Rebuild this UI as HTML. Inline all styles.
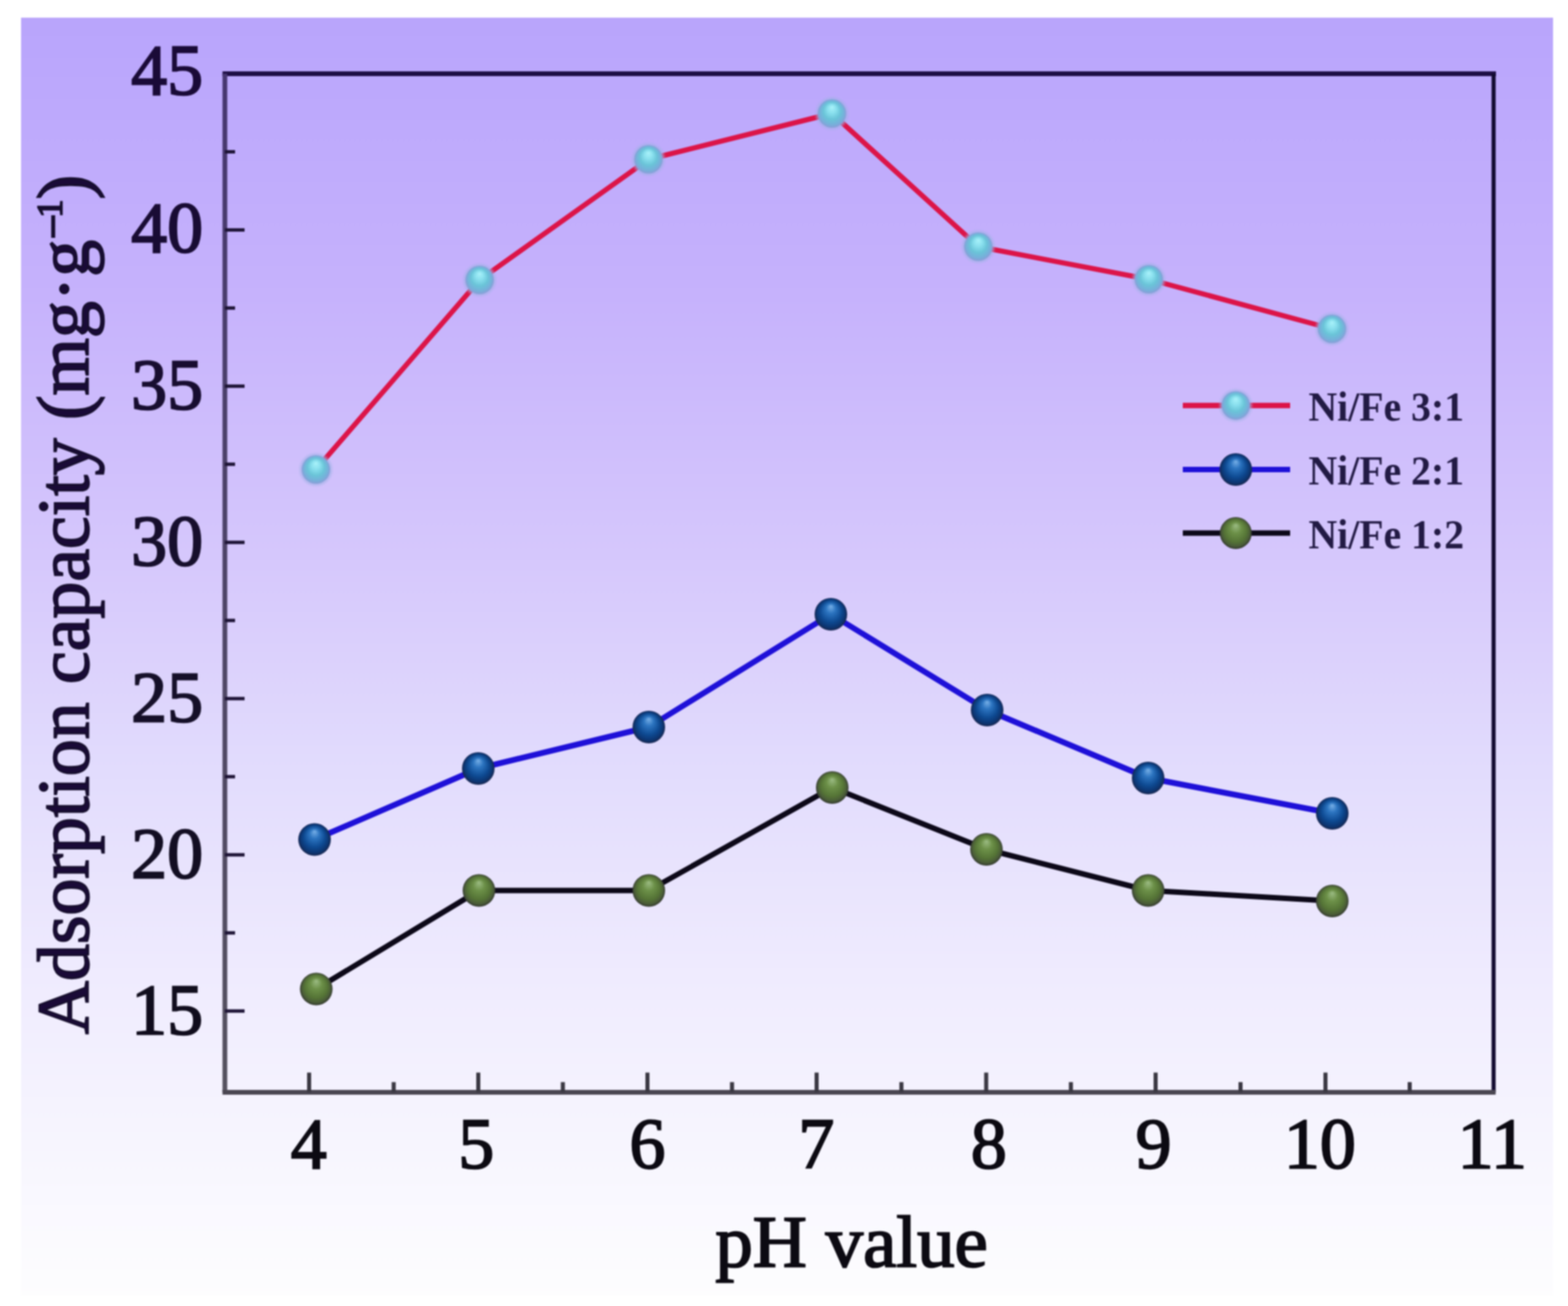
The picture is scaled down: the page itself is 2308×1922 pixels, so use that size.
<!DOCTYPE html>
<html><head><meta charset="utf-8"><title>Adsorption capacity vs pH</title>
<style>
html,body{margin:0;padding:0;background:#fff;}
body{width:2308px;height:1922px;overflow:hidden;}
svg{display:block;filter:blur(1px);}
text{font-family:"Liberation Serif","Times New Roman",serif;}
</style></head><body>
<svg width="2308" height="1922" viewBox="0 0 2308 1922" xmlns="http://www.w3.org/2000/svg">
<defs>
<linearGradient id="bg" gradientUnits="userSpaceOnUse" x1="0" y1="26" x2="0" y2="1907">
<stop offset="0.0000" stop-color="#b9a5fb"/>
<stop offset="0.0181" stop-color="#baa6fc"/>
<stop offset="0.2148" stop-color="#c6b2fc"/>
<stop offset="0.4274" stop-color="#d6c8fc"/>
<stop offset="0.5869" stop-color="#e2dcfd"/>
<stop offset="0.7464" stop-color="#efebfe"/>
<stop offset="0.8474" stop-color="#f5f3fe"/>
<stop offset="0.9325" stop-color="#faf9ff"/>
<stop offset="1.0000" stop-color="#fdfdfe"/>
</linearGradient>
<linearGradient id="ink" gradientUnits="userSpaceOnUse" x1="0" y1="60" x2="0" y2="1900">
<stop offset="0" stop-color="#1a0a38"/>
<stop offset="0.5" stop-color="#16102a"/>
<stop offset="1" stop-color="#0c0a12"/>
</linearGradient>
<linearGradient id="lft" gradientUnits="userSpaceOnUse" x1="0" y1="100" x2="0" y2="1620">
<stop offset="0" stop-color="#463670"/>
<stop offset="1" stop-color="#55525e"/>
</linearGradient>
<radialGradient id="mc" cx="0.5" cy="0.5" r="0.5" fx="0.5" fy="0.27">
<stop offset="0" stop-color="#aaf2fa"/>
<stop offset="0.3" stop-color="#8ae0ee"/>
<stop offset="0.6" stop-color="#6ac4d8"/>
<stop offset="0.85" stop-color="#76b0da"/>
<stop offset="1" stop-color="#8a9ed8"/>
</radialGradient>
<filter id="soft" x="-20%" y="-20%" width="140%" height="140%"><feGaussianBlur stdDeviation="1.6"/></filter>
<radialGradient id="mb" cx="0.5" cy="0.5" r="0.5" fx="0.5" fy="0.25">
<stop offset="0" stop-color="#78b0e8"/>
<stop offset="0.3" stop-color="#2c74c0"/>
<stop offset="0.65" stop-color="#0e4a92"/>
<stop offset="0.88" stop-color="#0c3470"/>
<stop offset="1" stop-color="#1a2850"/>
</radialGradient>
<radialGradient id="mg" cx="0.5" cy="0.5" r="0.5" fx="0.5" fy="0.25">
<stop offset="0" stop-color="#9cbc84"/>
<stop offset="0.35" stop-color="#6c9048"/>
<stop offset="0.7" stop-color="#557436"/>
<stop offset="0.88" stop-color="#4a5c38"/>
<stop offset="1" stop-color="#343a30"/>
</radialGradient>
</defs>
<rect x="0" y="0" width="2308" height="1922" fill="#fff"/>
<rect x="31" y="26" width="2255" height="1881" fill="url(#bg)"/>

<line x1="327.5" y1="108.5" x2="2202.0" y2="108.5" stroke="#1e0e44" stroke-width="7"/>
<line x1="2198.5" y1="108.5" x2="2198.5" y2="1607.5" stroke="#120a30" stroke-width="6"/>
<line x1="331" y1="108.5" x2="331" y2="1607.5" stroke="url(#lft)" stroke-width="7"/>
<line x1="327.5" y1="1607.5" x2="2201.5" y2="1607.5" stroke="#4a4652" stroke-width="7"/>
<line x1="455" y1="1607.5" x2="455" y2="1578.5" stroke="#3a3842" stroke-width="6"/>
<line x1="579.5" y1="1607.5" x2="579.5" y2="1592.5" stroke="#3a3842" stroke-width="6"/>
<line x1="704" y1="1607.5" x2="704" y2="1578.5" stroke="#3a3842" stroke-width="6"/>
<line x1="828.5" y1="1607.5" x2="828.5" y2="1592.5" stroke="#3a3842" stroke-width="6"/>
<line x1="953" y1="1607.5" x2="953" y2="1578.5" stroke="#3a3842" stroke-width="6"/>
<line x1="1077.5" y1="1607.5" x2="1077.5" y2="1592.5" stroke="#3a3842" stroke-width="6"/>
<line x1="1202" y1="1607.5" x2="1202" y2="1578.5" stroke="#3a3842" stroke-width="6"/>
<line x1="1326.8" y1="1607.5" x2="1326.8" y2="1592.5" stroke="#3a3842" stroke-width="6"/>
<line x1="1451.6" y1="1607.5" x2="1451.6" y2="1578.5" stroke="#3a3842" stroke-width="6"/>
<line x1="1576.3" y1="1607.5" x2="1576.3" y2="1592.5" stroke="#3a3842" stroke-width="6"/>
<line x1="1701" y1="1607.5" x2="1701" y2="1578.5" stroke="#3a3842" stroke-width="6"/>
<line x1="1826.0" y1="1607.5" x2="1826.0" y2="1592.5" stroke="#3a3842" stroke-width="6"/>
<line x1="1951" y1="1607.5" x2="1951" y2="1578.5" stroke="#3a3842" stroke-width="6"/>
<line x1="2075.0" y1="1607.5" x2="2075.0" y2="1592.5" stroke="#3a3842" stroke-width="6"/>
<line x1="331" y1="1487.9" x2="360" y2="1487.9" stroke="#1e1436" stroke-width="5"/>
<line x1="331" y1="1258.0" x2="360" y2="1258.0" stroke="#1e1436" stroke-width="5"/>
<line x1="331" y1="1372.9" x2="346" y2="1372.9" stroke="#1e1436" stroke-width="5"/>
<line x1="331" y1="1028.1" x2="360" y2="1028.1" stroke="#1e1436" stroke-width="5"/>
<line x1="331" y1="1143.0" x2="346" y2="1143.0" stroke="#1e1436" stroke-width="5"/>
<line x1="331" y1="798.2" x2="360" y2="798.2" stroke="#1e1436" stroke-width="5"/>
<line x1="331" y1="913.1" x2="346" y2="913.1" stroke="#1e1436" stroke-width="5"/>
<line x1="331" y1="568.3" x2="360" y2="568.3" stroke="#1e1436" stroke-width="5"/>
<line x1="331" y1="683.2" x2="346" y2="683.2" stroke="#1e1436" stroke-width="5"/>
<line x1="331" y1="338.4" x2="360" y2="338.4" stroke="#1e1436" stroke-width="5"/>
<line x1="331" y1="453.3" x2="346" y2="453.3" stroke="#1e1436" stroke-width="5"/>
<line x1="331" y1="223.4" x2="346" y2="223.4" stroke="#1e1436" stroke-width="5"/>
<g font-size="106" fill="url(#ink)" stroke="url(#ink)" stroke-width="2.6" text-anchor="end">
<text x="299" y="1522.0">15</text>
<text x="299" y="1292.0">20</text>
<text x="299" y="1061.5">25</text>
<text x="299" y="831.5">30</text>
<text x="299" y="601.5">35</text>
<text x="299" y="371.0">40</text>
<text x="299" y="139.0">45</text>
</g>
<g font-size="106" fill="#0c0a12" stroke="#0c0a12" stroke-width="2.6" text-anchor="middle">
<text x="454.5" y="1719">4</text>
<text x="701.0" y="1719">5</text>
<text x="953.0" y="1719">6</text>
<text x="1201.5" y="1719">7</text>
<text x="1455.5" y="1719">8</text>
<text x="1698.0" y="1719">9</text>
<text x="1942.8" y="1719">10</text>
<text x="2196.6" y="1719">11</text>
</g>
<text x="1053" y="1864" font-size="107" fill="#0c0a12" stroke="#0c0a12" stroke-width="2.6" textLength="401" lengthAdjust="spacingAndGlyphs">pH value</text>
<text transform="rotate(-90)" x="-1522" y="130" font-size="108.5" fill="url(#ink)" stroke="#160e2c" stroke-width="2.6">Adsorption capacity (mg·g</text>
<text transform="rotate(-90)" x="-352" y="100" font-size="66" fill="url(#ink)" stroke="#160e2c" stroke-width="2.6">−</text>
<text transform="rotate(-90)" x="-320" y="91" font-size="52" fill="url(#ink)" stroke="#160e2c" stroke-width="2.6">1</text>
<text transform="rotate(-90)" x="-293.5" y="130" font-size="108.5" fill="url(#ink)" stroke="#160e2c" stroke-width="2.6">)</text>
<polyline points="465,691 706,412 954.5,234.5 1224.6,167 1440,363 1691,411 1960.6,484" fill="none" stroke="#dc1448" stroke-width="7.5" stroke-linejoin="round"/>
<polyline points="463,1235.5 704,1131 955,1070 1223,904 1453,1045 1690,1145 1961,1197" fill="none" stroke="#1e10d8" stroke-width="8.5" stroke-linejoin="round"/>
<polyline points="465.5,1455.5 705,1310.5 955,1310.5 1225,1159 1452,1250 1690,1310.5 1961,1326" fill="none" stroke="#0c0818" stroke-width="8" stroke-linejoin="round"/>
<circle cx="465" cy="691" r="24" fill="#9cb0e4" fill-opacity="0.6" filter="url(#soft)"/>
<circle cx="465" cy="691" r="21" fill="url(#mc)"/>
<circle cx="706" cy="412" r="24" fill="#9cb0e4" fill-opacity="0.6" filter="url(#soft)"/>
<circle cx="706" cy="412" r="21" fill="url(#mc)"/>
<circle cx="954.5" cy="234.5" r="24" fill="#9cb0e4" fill-opacity="0.6" filter="url(#soft)"/>
<circle cx="954.5" cy="234.5" r="21" fill="url(#mc)"/>
<circle cx="1224.6" cy="167" r="24" fill="#9cb0e4" fill-opacity="0.6" filter="url(#soft)"/>
<circle cx="1224.6" cy="167" r="21" fill="url(#mc)"/>
<circle cx="1440" cy="363" r="24" fill="#9cb0e4" fill-opacity="0.6" filter="url(#soft)"/>
<circle cx="1440" cy="363" r="21" fill="url(#mc)"/>
<circle cx="1691" cy="411" r="24" fill="#9cb0e4" fill-opacity="0.6" filter="url(#soft)"/>
<circle cx="1691" cy="411" r="21" fill="url(#mc)"/>
<circle cx="1960.6" cy="484" r="24" fill="#9cb0e4" fill-opacity="0.6" filter="url(#soft)"/>
<circle cx="1960.6" cy="484" r="21" fill="url(#mc)"/>
<circle cx="463" cy="1235.5" r="24" fill="url(#mb)"/>
<circle cx="704" cy="1131" r="24" fill="url(#mb)"/>
<circle cx="955" cy="1070" r="24" fill="url(#mb)"/>
<circle cx="1223" cy="904" r="24" fill="url(#mb)"/>
<circle cx="1453" cy="1045" r="24" fill="url(#mb)"/>
<circle cx="1690" cy="1145" r="24" fill="url(#mb)"/>
<circle cx="1961" cy="1197" r="24" fill="url(#mb)"/>
<circle cx="465.5" cy="1455.5" r="24" fill="url(#mg)"/>
<circle cx="705" cy="1310.5" r="24" fill="url(#mg)"/>
<circle cx="955" cy="1310.5" r="24" fill="url(#mg)"/>
<circle cx="1225" cy="1159" r="24" fill="url(#mg)"/>
<circle cx="1452" cy="1250" r="24" fill="url(#mg)"/>
<circle cx="1690" cy="1310.5" r="24" fill="url(#mg)"/>
<circle cx="1961" cy="1326" r="24" fill="url(#mg)"/>
<line x1="1741" y1="596.7" x2="1899" y2="596.7" stroke="#dc1448" stroke-width="8"/>
<circle cx="1819" cy="596.7" r="24" fill="#9cb0e4" fill-opacity="0.6" filter="url(#soft)"/>
<circle cx="1819" cy="596.7" r="21" fill="url(#mc)"/>
<text x="1926" y="618.7" font-size="62" font-weight="bold" fill="#221a44" textLength="229" lengthAdjust="spacingAndGlyphs">Ni/Fe 3:1</text>
<line x1="1741" y1="691" x2="1899" y2="691" stroke="#1e10d8" stroke-width="8"/>
<circle cx="1819" cy="691" r="24" fill="url(#mb)"/>
<text x="1926" y="713" font-size="62" font-weight="bold" fill="#221a44" textLength="229" lengthAdjust="spacingAndGlyphs">Ni/Fe 2:1</text>
<line x1="1741" y1="784.5" x2="1899" y2="784.5" stroke="#0c0818" stroke-width="8"/>
<circle cx="1819" cy="784.5" r="23.5" fill="url(#mg)"/>
<text x="1926" y="806.5" font-size="62" font-weight="bold" fill="#221a44" textLength="229" lengthAdjust="spacingAndGlyphs">Ni/Fe 1:2</text>
</svg></body></html>
